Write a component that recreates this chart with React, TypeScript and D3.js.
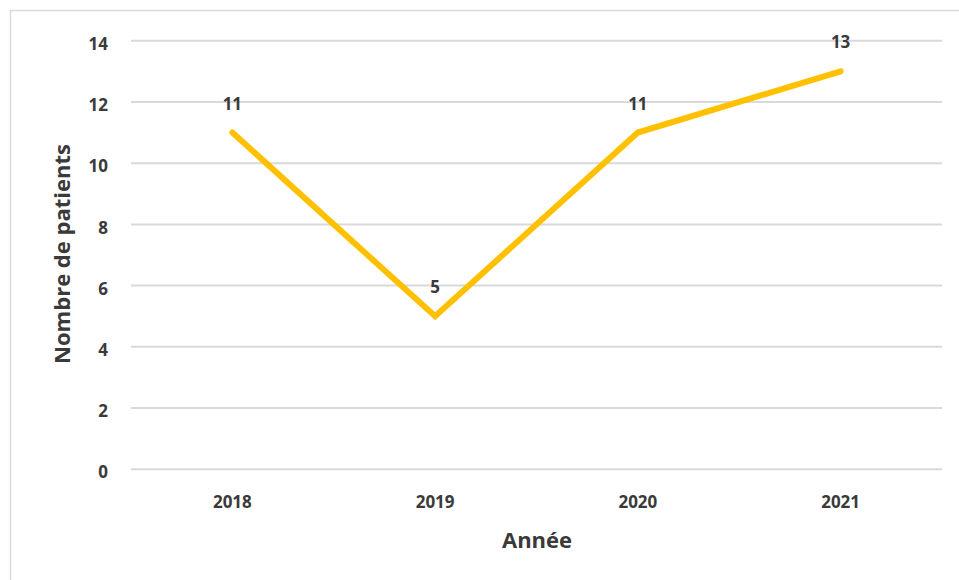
import React from "react";
import * as d3 from "d3";

const years = ["2018", "2019", "2020", "2021"];
const patients = [11, 5, 11, 13];
const yTicks = [0, 2, 4, 6, 8, 10, 12, 14];

const W = 959;
const H = 580;
const plot = { left: 131, right: 942, top: 40.7, bottom: 469.3 };
const FONT = "'Open Sans', 'Noto Sans', sans-serif";
const TEXT = "#3a3a3a";

export default function App() {
  const x = d3.scaleBand<string>().domain(years).range([plot.left, plot.right]);
  const y = d3.scaleLinear().domain([0, 14]).range([plot.bottom, plot.top]);
  const cx = (d: string) => (x(d) ?? 0) + x.bandwidth() / 2;

  const line = d3
    .line<number>()
    .x((_, i) => cx(years[i]))
    .y((v) => y(v));

  return (
    <svg
      width={W}
      height={H}
      style={{ position: "fixed", left: 0, top: 0, background: "#fff" }}
      fontFamily={FONT}
    >
      <rect x={10.5} y={10.5} width={W + 20} height={H + 20} fill="#fff" stroke="#d9d9d9" strokeWidth={1.5} />

      {yTicks.map((t) => (
        <g key={t}>
          <line x1={plot.left} x2={plot.right} y1={y(t)} y2={y(t)} stroke="#d9d9d9" strokeWidth={2} />
          <text
            x={108}
            y={y(t) + 3}
            dy="0.36em"
            textAnchor="end"
            fontSize={17}
            fontWeight={700}
            fill={TEXT}
          >
            {t}
          </text>
        </g>
      ))}

      {years.map((yr) => (
        <text
          key={yr}
          x={cx(yr)}
          y={502}
          dy="0.36em"
          textAnchor="middle"
          fontSize={17}
          fontWeight={700}
          fill={TEXT}
        >
          {yr}
        </text>
      ))}

      <path
        d={line(patients) ?? ""}
        fill="none"
        stroke="#FFC000"
        strokeWidth={6}
        strokeLinecap="round"
        strokeLinejoin="miter"
      />

      {patients.map((v, i) => (
        <text
          key={years[i]}
          x={cx(years[i])}
          y={y(v) - 29}
          dy="0.36em"
          textAnchor="middle"
          fontSize={17}
          fontWeight={700}
          fill={TEXT}
        >
          {v}
        </text>
      ))}

      <text x={537} y={540} dy="0.36em" textAnchor="middle" fontSize={22} fontWeight={700} fill={TEXT}>
        Année
      </text>
      <text
        transform={`translate(62, 254) rotate(-90)`}
        dy="0.36em"
        textAnchor="middle"
        fontSize={22}
        fontWeight={700}
        fill={TEXT}
      >
        Nombre de patients
      </text>
    </svg>
  );
}
